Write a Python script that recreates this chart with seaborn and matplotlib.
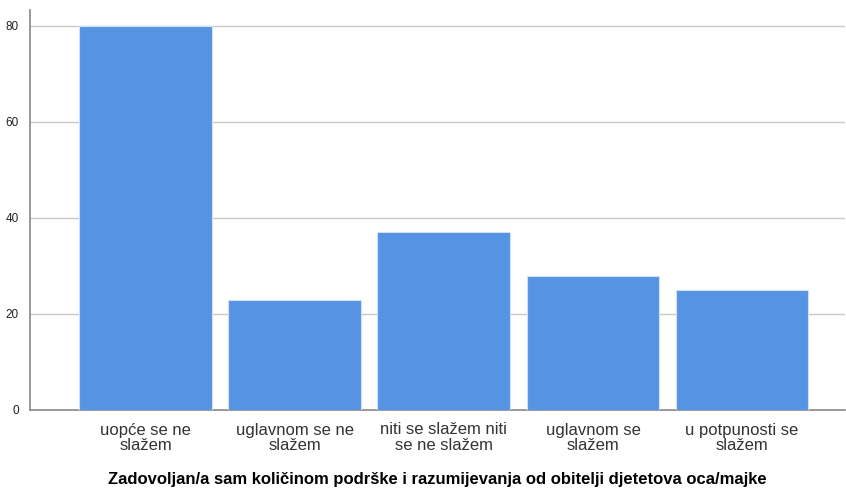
import pandas as pd
import seaborn as sns
import matplotlib.pyplot as plt

# answer categories and counts
categories = [
    "uopće se ne\nslažem",
    "uglavnom se ne\nslažem",
    "niti se slažem niti\nse ne slažem",
    "uglavnom se\nslažem",
    "u potpunosti se\nslažem",
]
counts = [80, 23, 37, 28, 25]
y_ticks = [0, 20, 40, 60, 80]

df = pd.DataFrame({"odgovor": categories, "broj": counts})

sns.set_style("white")
plt.rcParams["font.family"] = ["Liberation Sans", "DejaVu Sans"]

fig = plt.figure(figsize=(8.46, 4.88), dpi=100)
ax = fig.add_axes([30 / 846, 78 / 488, 815 / 846, 400 / 488])

sns.barplot(data=df, x="odgovor", y="broj", color="#5593e3", saturation=1,
            width=0.89, edgecolor="#cfe0f7", linewidth=0.8, ax=ax, zorder=3)

ax.set_ylim(0, 83.3)
ax.set_xlim(-0.775, 4.69)
ax.set_yticks(y_ticks)
ax.yaxis.grid(True, color="#c8c8c8", linewidth=1, zorder=0)
ax.set_axisbelow(True)

for side in ["top", "right"]:
    ax.spines[side].set_visible(False)
ax.spines["left"].set_color("#888888")
ax.spines["bottom"].set_color("#888888")
ax.spines["left"].set_linewidth(1.2)
ax.spines["bottom"].set_linewidth(1.2)

ax.tick_params(axis="y", length=0, labelsize=8.5, pad=8, colors="#222222")
ax.tick_params(axis="x", length=0, labelsize=12, pad=9, colors="#333333")
for lbl in ax.get_xticklabels():
    lbl.set_linespacing(1.0)

ax.set_ylabel("")
ax.set_xlabel("Zadovoljan/a sam količinom podrške i razumijevanja od obitelji djetetova oca/majke",
              fontsize=12, fontweight="bold", labelpad=14, color="black")

fig.savefig("out.png", dpi=100)
